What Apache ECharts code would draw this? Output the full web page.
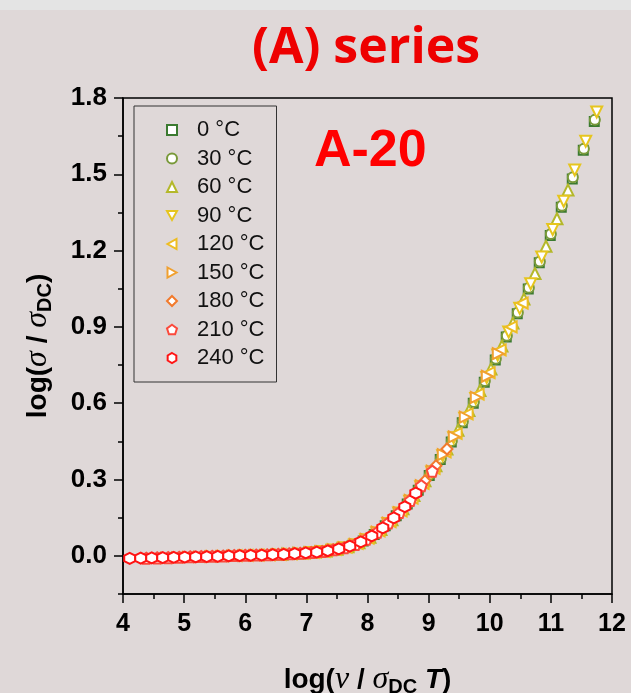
<!DOCTYPE html>
<html>
<head>
<meta charset="utf-8">
<script src="https://cdn.jsdelivr.net/npm/echarts@6/dist/echarts.min.js"></script>
<style>
html,body{margin:0;padding:0;background:#dfd8d8;}
#chart{width:631px;height:693px;}
</style>
</head>
<body>
<div id="chart"></div>
<script>
// ---- data: [log(nu/sigmaDC T), log(sigma/sigmaDC)] ----
const seriesNames = ['0 °C','30 °C','60 °C','90 °C','120 °C','150 °C','180 °C','210 °C','240 °C'];

const d0 = [[7.03,0.011],[7.21,0.015],[7.39,0.021],[7.57,0.029],[7.75,0.041],[7.93,0.058],[8.11,0.084],[8.29,0.118],[8.47,0.158],[8.65,0.204],[8.83,0.258],[9.01,0.316],[9.19,0.379],[9.37,0.448],[9.55,0.523],[9.73,0.600],[9.91,0.682],[10.09,0.770],[10.27,0.860],[10.45,0.952],[10.63,1.049],[10.81,1.152],[10.99,1.259],[11.17,1.370],[11.35,1.482],[11.53,1.595],[11.71,1.708]];
const d30 = [[7.04,0.012],[7.22,0.016],[7.40,0.022],[7.58,0.030],[7.76,0.042],[7.94,0.060],[8.12,0.086],[8.30,0.120],[8.48,0.160],[8.66,0.207],[8.84,0.262],[9.02,0.320],[9.20,0.383],[9.38,0.452],[9.56,0.528],[9.74,0.605],[9.92,0.687],[10.10,0.775],[10.28,0.865],[10.46,0.957],[10.64,1.054],[10.82,1.157],[11.00,1.265],[11.18,1.376],[11.36,1.488],[11.54,1.600],[11.72,1.714]];
const d60 = [[6.60,0.006],[6.78,0.009],[6.96,0.011],[7.14,0.015],[7.32,0.019],[7.50,0.026],[7.68,0.036],[7.86,0.051],[8.04,0.073],[8.22,0.104],[8.40,0.142],[8.58,0.185],[8.76,0.237],[8.94,0.295],[9.12,0.354],[9.30,0.420],[9.48,0.494],[9.66,0.571],[9.84,0.650],[10.02,0.735],[10.20,0.825],[10.38,0.915],[10.56,1.010],[10.74,1.110],[10.92,1.217],[11.10,1.325],[11.28,1.438]];
const d90 = [[7.07,0.013],[7.25,0.017],[7.43,0.023],[7.61,0.032],[7.79,0.044],[7.97,0.063],[8.15,0.091],[8.33,0.127],[8.51,0.168],[8.69,0.215],[8.87,0.272],[9.05,0.330],[9.23,0.394],[9.41,0.464],[9.59,0.541],[9.77,0.619],[9.95,0.701],[10.13,0.790],[10.31,0.880],[10.49,0.973],[10.67,1.070],[10.85,1.175],[11.03,1.283],[11.21,1.394],[11.39,1.517],[11.57,1.630],[11.75,1.745]];
const d120 = [[5.85,0.001],[6.03,0.002],[6.21,0.003],[6.39,0.004],[6.57,0.006],[6.75,0.008],[6.93,0.011],[7.11,0.014],[7.29,0.018],[7.47,0.025],[7.65,0.034],[7.83,0.049],[8.01,0.070],[8.19,0.098],[8.37,0.135],[8.55,0.177],[8.73,0.227],[8.91,0.285],[9.09,0.344],[9.27,0.409],[9.45,0.481],[9.63,0.558],[9.81,0.636],[9.99,0.720],[10.17,0.810],[10.35,0.900],[10.53,0.994]];
const d150 = [[5.46,-0.002],[5.64,-0.001],[5.82,0.001],[6.00,0.002],[6.18,0.003],[6.36,0.004],[6.54,0.006],[6.72,0.008],[6.90,0.010],[7.08,0.013],[7.26,0.017],[7.44,0.024],[7.62,0.032],[7.80,0.045],[7.98,0.065],[8.16,0.093],[8.34,0.129],[8.52,0.170],[8.70,0.218],[8.88,0.276],[9.06,0.333],[9.24,0.398],[9.42,0.468],[9.60,0.545],[9.78,0.623],[9.96,0.706],[10.14,0.795]];
const d180 = [[4.62,-0.008],[4.80,-0.007],[4.98,-0.005],[5.16,-0.004],[5.34,-0.003],[5.52,-0.002],[5.70,0.000],[5.88,0.001],[6.06,0.002],[6.24,0.003],[6.42,0.005],[6.60,0.006],[6.78,0.009],[6.96,0.011],[7.14,0.015],[7.32,0.019],[7.50,0.026],[7.68,0.036],[7.86,0.051],[8.04,0.073],[8.22,0.104],[8.40,0.142],[8.58,0.185],[8.76,0.237],[8.94,0.295],[9.12,0.354],[9.30,0.420]];
const d210 = [[4.38,-0.009],[4.56,-0.008],[4.74,-0.007],[4.92,-0.006],[5.10,-0.004],[5.28,-0.003],[5.46,-0.002],[5.64,-0.001],[5.82,0.001],[6.00,0.002],[6.18,0.003],[6.36,0.004],[6.54,0.006],[6.72,0.008],[6.90,0.010],[7.08,0.013],[7.26,0.017],[7.44,0.024],[7.62,0.032],[7.80,0.045],[7.98,0.065],[8.16,0.093],[8.34,0.129],[8.52,0.170],[8.70,0.218],[8.88,0.276],[9.06,0.333]];
const d240 = [[4.11,-0.010],[4.29,-0.009],[4.47,-0.008],[4.65,-0.007],[4.83,-0.006],[5.01,-0.005],[5.19,-0.004],[5.37,-0.003],[5.55,-0.002],[5.73,0.000],[5.91,0.001],[6.09,0.002],[6.27,0.003],[6.45,0.005],[6.63,0.006],[6.81,0.009],[6.99,0.012],[7.17,0.015],[7.35,0.020],[7.53,0.027],[7.71,0.038],[7.89,0.055],[8.07,0.078],[8.25,0.110],[8.43,0.149],[8.61,0.193],[8.79,0.247]];

const yMajorTicks = [0, 0.3, 0.6, 0.9, 1.2, 1.5, 1.8];
const yMinorTicks = [-0.15, 0.15, 0.45, 0.75, 1.05, 1.35, 1.65];
const xTicks = [4, 5, 6, 7, 8, 9, 10, 11, 12];

// ---- styling ----
const allData = [d0, d30, d60, d90, d120, d150, d180, d210, d240];
const colors = ['#3b7a30','#79993a','#b4b82a','#e6c51e','#eebd22','#f0a030','#f27a2c','#fb4a3c','#ff1414'];
const symbols = [
  'rect',
  'circle',
  'triangle',
  'path://M0,0 L10,0 L5,9 Z',
  'path://M9,0 L9,10 L0,5 Z',
  'path://M0,0 L9,5 L0,10 Z',
  'diamond',
  'path://M5,0 L9.755,3.455 L7.939,9.045 L2.061,9.045 L0.245,3.455 Z',
  'path://M5,0 L9.33,2.5 L9.33,7.5 L5,10 L0.67,7.5 L0.67,2.5 Z'
];
const sizes = [9, 10, 11, 11, 11, 11, 11, 11, 11];

const chart = echarts.init(document.getElementById('chart'), null, {renderer: 'canvas'});

const nameRich = {
  a: {fontFamily: 'Liberation Sans', fontWeight: 'bold', fontSize: 28, lineHeight: 32, color: '#000'},
  i: {fontFamily: 'Liberation Serif', fontStyle: 'italic', fontSize: 32, lineHeight: 32, color: '#000'},
  t: {fontFamily: 'Liberation Sans', fontStyle: 'italic', fontWeight: 'bold', fontSize: 28, lineHeight: 32, color: '#000'},
  s: {fontFamily: 'Liberation Sans', fontWeight: 'bold', fontSize: 20, lineHeight: 30, padding: [15, 0, 0, 0], color: '#000'}
};

const series = allData.map((d, k) => ({
  name: seriesNames[k],
  type: 'scatter',
  data: d,
  symbol: symbols[k],
  symbolSize: sizes[k],
  itemStyle: {color: '#ffffff', borderColor: colors[k], borderWidth: 2, opacity: 1},
  emphasis: {disabled: true},
  z: 3 + k
}));

chart.setOption({
  backgroundColor: '#dfd8d8',
  animation: false,
  graphic: [
    {type: 'rect', left: 0, top: 0, shape: {width: 631, height: 10}, style: {fill: '#e4e4e4'}, z: -10},
    {type: 'text', left: 252, top: 24, style: {text: '(A) series', fontFamily: 'Open Sans', fontWeight: 'bold', fontSize: 50, fill: '#ee0000'}},
    {type: 'text', left: 314, top: 126, style: {text: 'A-20', fontFamily: 'Liberation Sans', fontWeight: 'bold', fontSize: 52, fill: '#ff0000'}, z: 10}
  ],
  grid: {left: 123, right: 19, top: 98, bottom: 99, show: true, borderColor: '#000', borderWidth: 1.5,
    backgroundColor: 'transparent', outerBoundsMode: 'none', containLabel: false},
  legend: {
    orient: 'vertical',
    left: 134, top: 106,
    padding: [13, 12, 13, 32],
    itemWidth: 10, itemHeight: 10,
    itemGap: 6.5,
    borderColor: '#333', borderWidth: 1,
    textStyle: {fontFamily: 'Liberation Sans', fontSize: 22, lineHeight: 22, color: '#111', padding: [0, 0, 0, 15]},
    selectedMode: false
  },
  xAxis: {
    type: 'value', min: 4, max: 12, interval: 1,
    name: '{a|log(}{i|ν}{a| / }{i|σ}{s|DC}{t| T}{a|)}',
    nameLocation: 'middle', nameGap: 70,
    nameTextStyle: {rich: nameRich},
    axisLine: {show: true, onZero: false, lineStyle: {color: '#000', width: 1.5}},
    axisTick: {show: true, length: 9, lineStyle: {color: '#000', width: 1.5}},
    minorTick: {show: true, splitNumber: 2, length: 5, lineStyle: {color: '#000', width: 1.5}},
    axisLabel: {margin: 18, fontFamily: 'Liberation Sans', fontWeight: 'bold', fontSize: 25, color: '#000',
      customValues: xTicks, formatter: v => String(v)},
    splitLine: {show: false}
  },
  yAxis: [
    {
      type: 'value', min: -0.15, max: 1.8,
      name: '{a|log(}{i|σ}{a| / }{i|σ}{s|DC}{a|)}',
      nameLocation: 'middle', nameGap: 69, nameRotate: 90,
      nameTextStyle: {rich: nameRich},
      axisLine: {show: true, onZero: false, lineStyle: {color: '#000', width: 1.5}},
      axisTick: {show: true, length: 9, customValues: yMajorTicks, lineStyle: {color: '#000', width: 1.5}},
      axisLabel: {margin: 16, fontFamily: 'Liberation Sans', fontWeight: 'bold', fontSize: 26, color: '#000',
        customValues: yMajorTicks, formatter: v => v.toFixed(1)},
      splitLine: {show: false}
    },
    {
      type: 'value', min: -0.15, max: 1.8, position: 'left',
      axisLine: {show: false},
      axisTick: {show: true, length: 5, customValues: yMinorTicks, lineStyle: {color: '#000', width: 1.5}},
      axisLabel: {show: false},
      splitLine: {show: false}
    }
  ],
  series: series
});
</script>
</body>
</html>
